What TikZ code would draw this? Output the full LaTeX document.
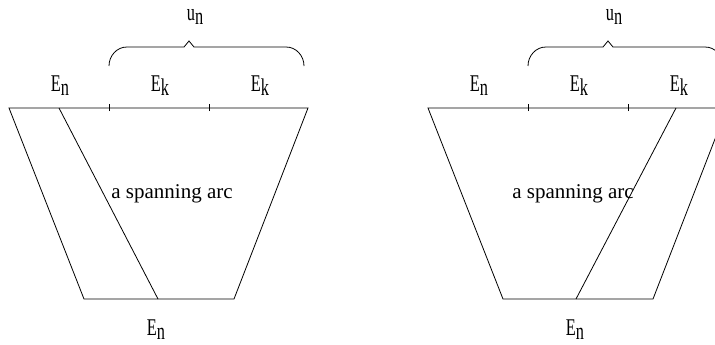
\documentclass[tikz,border=0pt]{standalone}
\usepackage{fontspec}
\setmainfont{Liberation Serif}
\newcommand{\sublab}[2]{#1\raisebox{-4pt}{#2}}
\tikzset{
  lab/.style={anchor=base,inner sep=0pt,font=\fontsize{24}{26}\selectfont,xscale=0.68},
  arclab/.style={anchor=base west,inner sep=0pt,font=\fontsize{21}{23}\selectfont}
}

\begin{document}
\begin{tikzpicture}[x=1pt,y=-1pt,line width=0.8pt]
  \clip (0,0) rectangle (715,345);
  % two trapezoids, shifted by 419
  \foreach \dx/\ta/\ba/\tx in {0/59/158/111, 419/676/576/512}{
    \begin{scope}[xshift=\dx]
      \coordinate (tl) at (9,108);
      \coordinate (tr) at (308,108);
      \coordinate (bl) at (84,299);
      \coordinate (br) at (234,299);
      \coordinate (k1) at (109,108);
      \coordinate (k2) at (209,108);
      \draw (bl)--(tl)--(tr)--(br)--cycle;
      \foreach \k in {k1,k2} \draw ([yshift=-3]\k)--([yshift=4]\k);
      % brace over the two E_k
      \draw (109,66) to[out=90,in=180] (127,47) -- (184,47) -- (189,41) -- (194,47) -- (286,47) to[out=0,in=90] (304,66);
      \node[lab] (un) at (195,21) {\sublab{u}{n}};
      \node[lab] (en) at (60,92) {\sublab{E}{n}};
      \node[lab] (ek1) at (160,92) {\sublab{E}{k}};
      \node[lab] (ek2) at (260,92) {\sublab{E}{k}};
      \node[lab] (eb) at (156,335) {\sublab{E}{n}};
    \end{scope}
    % spanning arc
    \coordinate (at) at (\ta,108);
    \coordinate (ab) at (\ba,299);
    \draw (at)--(ab);
    \node[arclab] (txt) at (\tx,198) {a spanning arc};
  }
\end{tikzpicture}
\end{document}
